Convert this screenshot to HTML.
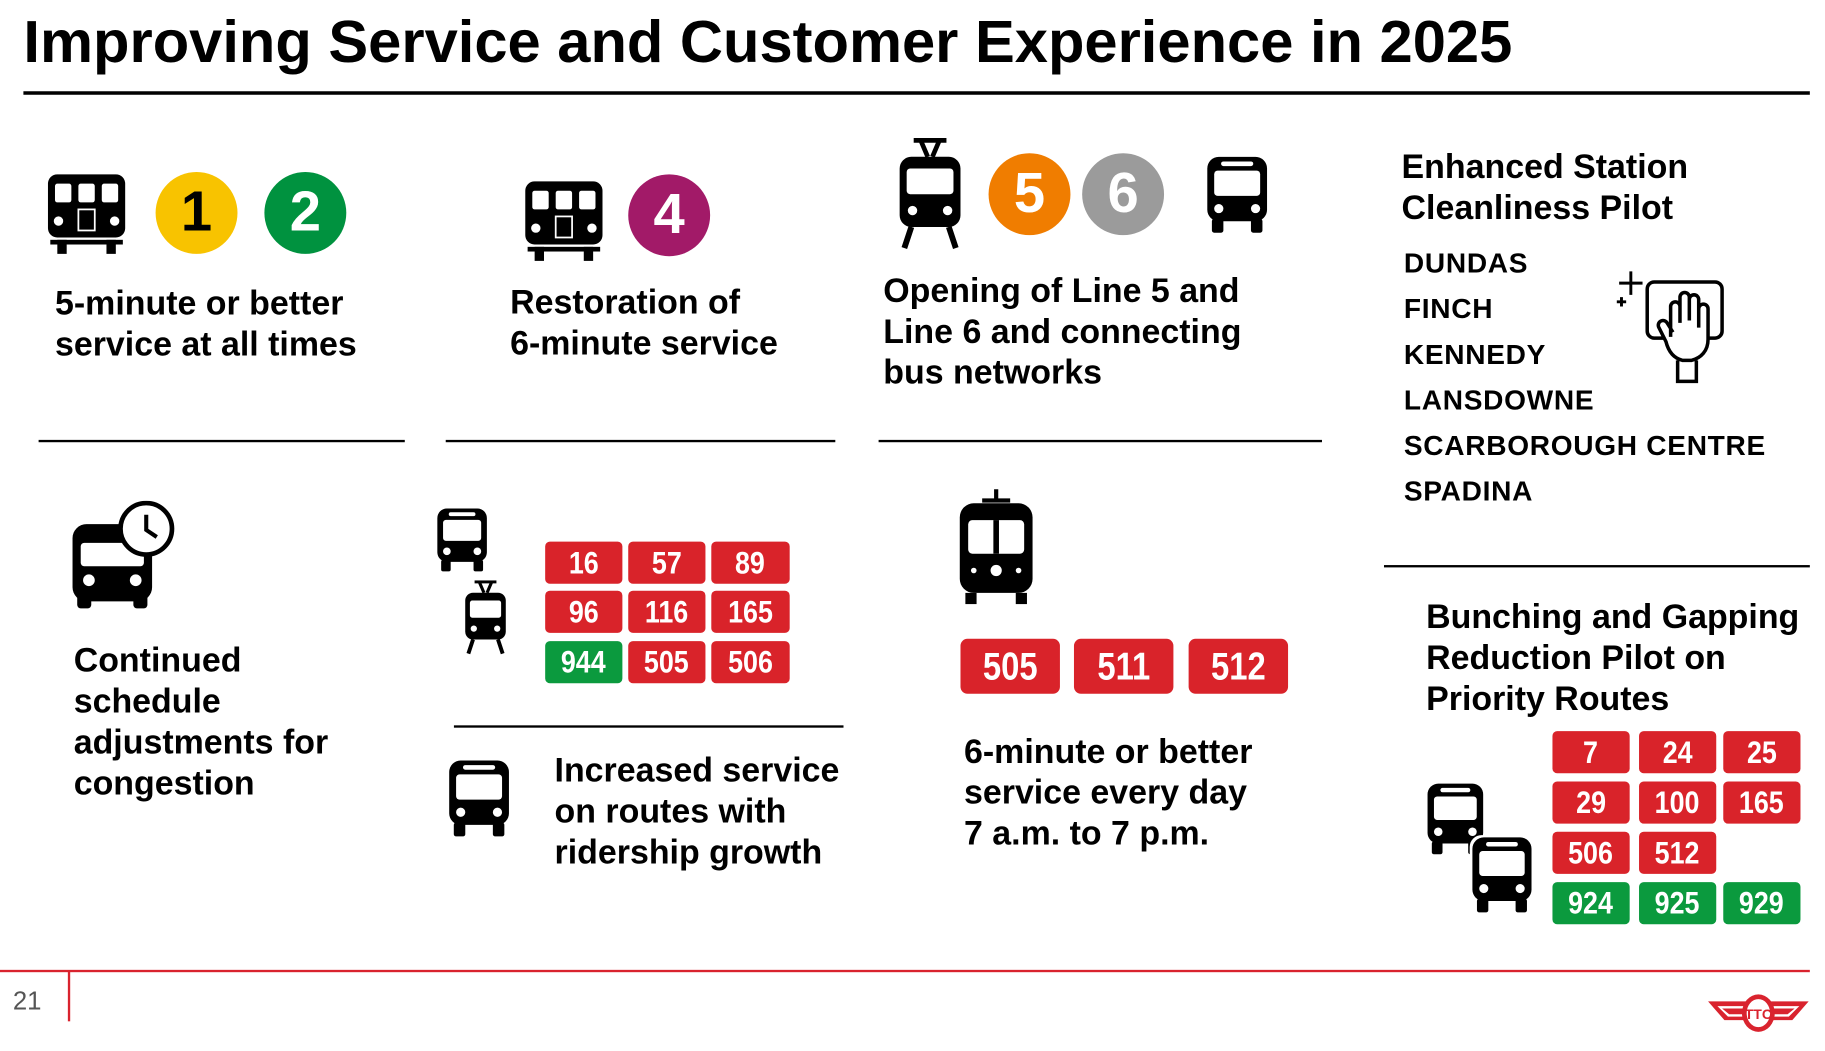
<!DOCTYPE html>
<html><head><meta charset="utf-8">
<style>
html,body{margin:0;padding:0;background:#fff;width:1825px;height:1051px;overflow:hidden}
#wrap{position:absolute;left:0;top:0;width:1560px;height:898px;transform:scale(1.1699);transform-origin:0 0;font-family:"Liberation Sans",Arial,sans-serif;color:#000}
.a{position:absolute}
.t{position:absolute;font-weight:bold;font-size:29px;line-height:35px;white-space:nowrap}
.rule{position:absolute;height:2px;background:#000}
.circ{position:absolute;width:70px;height:70px;border-radius:50%;color:#fff;font-weight:bold;font-size:48px;line-height:70px;text-align:center}
.box{position:absolute;width:66px;height:36px;background:#d9232a;border-radius:4px;color:#fff;font-weight:bold;font-size:27px;line-height:36px;text-align:center}
.box span{display:inline-block;transform:scaleX(.85)}
.g{background:#0b9a3e}
.st{position:absolute;left:1200px;font-size:24px;letter-spacing:0.6px;font-weight:bold;white-space:nowrap}
</style></head><body>
<svg width="0" height="0" style="position:absolute">
<defs>
<symbol id="train" viewBox="0 0 70 74">
<rect x="2" y="4" width="66" height="54" rx="8" fill="#000"/>
<rect x="8" y="12" width="14" height="16" rx="2" fill="#fff"/><rect x="28" y="12" width="14" height="16" rx="2" fill="#fff"/><rect x="48" y="12" width="14" height="16" rx="2" fill="#fff"/>
<circle cx="11" cy="44" r="4" fill="#fff"/><circle cx="59" cy="44" r="4" fill="#fff"/>
<rect x="28" y="34" width="14" height="18" fill="none" stroke="#fff" stroke-width="1.5"/>
<rect x="10" y="60" width="8" height="12" fill="#000"/><rect x="52" y="60" width="8" height="12" fill="#000"/><rect x="4" y="60" width="62" height="4" fill="#000"/>
</symbol>
<symbol id="bus" viewBox="0 0 56 70">
<rect x="2" y="2" width="52" height="56" rx="10" fill="#000"/>
<rect x="8" y="14" width="40" height="22" rx="3" fill="#fff"/>
<rect x="14" y="6" width="28" height="4" rx="2" fill="#fff"/>
<circle cx="12" cy="47" r="4" fill="#fff"/><circle cx="44" cy="47" r="4" fill="#fff"/>
<rect x="6" y="56" width="10" height="12" rx="2" fill="#000"/><rect x="40" y="56" width="10" height="12" rx="2" fill="#000"/>
</symbol>
<symbol id="tram" viewBox="0 0 56 96">
<path d="M14 2h28M20 2l6 14M36 2l-6 14" stroke="#000" stroke-width="4" fill="none"/>
<rect x="2" y="16" width="52" height="60" rx="10" fill="#000"/>
<rect x="8" y="26" width="40" height="22" rx="3" fill="#fff"/>
<circle cx="13" cy="62" r="4" fill="#fff"/><circle cx="43" cy="62" r="4" fill="#fff"/>
<path d="M12 76l-6 18M44 76l6 18" stroke="#000" stroke-width="5"/>
</symbol>
</defs></svg>
<div id="wrap">
<div class="a" style="left:20px;top:6px;font-size:51px;font-weight:bold;white-space:nowrap">Improving Service and Customer Experience in 2025</div>
<div class="a" style="left:20px;top:78px;width:1527px;height:3px;background:#000"></div>

<svg class="a" style="left:39px;top:145px" width="70" height="74"><use href="#train"/></svg>
<div class="circ" style="left:133px;top:147px;background:#f8c300;color:#000">1</div>
<div class="circ" style="left:226px;top:147px;background:#00923f">2</div>
<div class="t" style="left:47px;top:243px">5-minute or better<br>service at all times</div>
<div class="rule" style="left:33px;top:376px;width:313px"></div>

<svg class="a" style="left:447px;top:151px" width="70" height="74"><use href="#train"/></svg>
<div class="circ" style="left:537px;top:149px;background:#a21a68">4</div>
<div class="t" style="left:436px;top:242px">Restoration of<br>6-minute service</div>
<div class="rule" style="left:381px;top:376px;width:333px"></div>

<svg class="a" style="left:767px;top:118px" width="56" height="96"><use href="#tram"/></svg>
<div class="circ" style="left:845px;top:131px;background:#f07d00">5</div>
<div class="circ" style="left:925px;top:131px;background:#9b9b9b">6</div>
<svg class="a" style="left:1030px;top:132px" width="55" height="69"><use href="#bus"/></svg>
<div class="t" style="left:755px;top:232px">Opening of Line 5 and<br>Line 6 and connecting<br>bus networks</div>
<div class="rule" style="left:751px;top:376px;width:379px"></div>

<div class="t" style="left:1198px;top:126px">Enhanced Station<br>Cleanliness Pilot</div>
<div class="st" style="top:212px">DUNDAS</div>
<div class="st" style="top:251px">FINCH</div>
<div class="st" style="top:290px">KENNEDY</div>
<div class="st" style="top:329px">LANSDOWNE</div>
<div class="st" style="top:368px">SCARBOROUGH CENTRE</div>
<div class="st" style="top:407px">SPADINA</div>
<svg class="a" style="left:1378px;top:228px" width="98" height="102" viewBox="0 0 98 102">
<path d="M16 4v20M6 14h20M8 26v8M4 30h8" stroke="#000" stroke-width="2.5"/>
<rect x="30" y="13" width="64" height="48" rx="6" fill="none" stroke="#000" stroke-width="3"/>
<path d="M50 60V34a4 4 0 0 1 8 0v-8a4 4 0 0 1 8 0v20M66 28a4 4 0 0 1 8 0v24M58 30v18M74 36a4 4 0 0 1 8 0v26c0 10-6 16-14 18h-8c-8-2-12-8-14-16l-6-12a4 4 0 0 1 7-4l5 8M56 80v18h16V80" fill="#fff" stroke="#000" stroke-width="3"/>
</svg>
<div class="rule" style="left:1183px;top:483px;width:364px"></div>

<svg class="a" style="left:60px;top:428px" width="90" height="94" viewBox="0 0 90 94">
<rect x="2" y="20" width="68" height="66" rx="12" fill="#000"/>
<rect x="9" y="36" width="54" height="20" rx="3" fill="#fff"/>
<circle cx="16" cy="68" r="5" fill="#fff"/><circle cx="56" cy="68" r="5" fill="#fff"/>
<rect x="6" y="80" width="12" height="12" rx="3" fill="#000"/><rect x="54" y="80" width="12" height="12" rx="3" fill="#000"/>
<circle cx="65" cy="24" r="22" fill="#fff" stroke="#000" stroke-width="4"/><path d="M65 12v13l9 6" stroke="#000" stroke-width="3.5" fill="none"/>
</svg>
<div class="t" style="left:63px;top:548px">Continued<br>schedule<br>adjustments for<br>congestion</div>

<svg class="a" style="left:372px;top:433px" width="46" height="57"><use href="#bus"/></svg>
<svg class="a" style="left:393px;top:496px" width="44" height="64"><use href="#tram"/></svg>
<div class="box" style="left:466px;top:463px"><span>16</span></div>
<div class="box" style="left:537px;top:463px"><span>57</span></div>
<div class="box" style="left:608px;top:463px;width:67px"><span>89</span></div>
<div class="box" style="left:466px;top:505px"><span>96</span></div>
<div class="box" style="left:537px;top:505px"><span>116</span></div>
<div class="box" style="left:608px;top:505px;width:67px"><span>165</span></div>
<div class="box g" style="left:466px;top:548px"><span>944</span></div>
<div class="box" style="left:537px;top:548px"><span>505</span></div>
<div class="box" style="left:608px;top:548px;width:67px"><span>506</span></div>
<div class="rule" style="left:388px;top:620px;width:333px"></div>
<svg class="a" style="left:382px;top:648px" width="55" height="69"><use href="#bus"/></svg>
<div class="t" style="left:474px;top:642px">Increased service<br>on routes with<br>ridership growth</div>

<svg class="a" style="left:818px;top:418px" width="67" height="101" viewBox="0 0 56 84">
<path d="M28 0v8M18 8h20" stroke="#000" stroke-width="3"/>
<rect x="2" y="10" width="52" height="64" rx="10" fill="#000"/>
<rect x="8" y="22" width="40" height="24" rx="3" fill="#fff"/><rect x="26" y="22" width="4" height="24" fill="#000"/>
<circle cx="28" cy="58" r="4" fill="#fff"/><circle cx="12" cy="58" r="2" fill="#fff"/><circle cx="44" cy="58" r="2" fill="#fff"/>
<rect x="6" y="74" width="8" height="8" fill="#000"/><rect x="42" y="74" width="8" height="8" fill="#000"/>
</svg>
<div class="box" style="left:821px;top:546px;width:85px;height:47px;line-height:47px;font-size:33px;border-radius:6px"><span>505</span></div>
<div class="box" style="left:918px;top:546px;width:85px;height:47px;line-height:47px;font-size:33px;border-radius:6px"><span>511</span></div>
<div class="box" style="left:1016px;top:546px;width:85px;height:47px;line-height:47px;font-size:33px;border-radius:6px"><span>512</span></div>
<div class="t" style="left:824px;top:626px">6-minute or better<br>service every day<br>7 a.m. to 7 p.m.</div>

<div class="t" style="left:1219px;top:511px">Bunching and Gapping<br>Reduction Pilot on<br>Priority Routes</div>
<svg class="a" style="left:1218px;top:668px" width="52" height="64"><use href="#bus"/></svg>
<svg class="a" style="left:1254px;top:712px" width="56" height="68" viewBox="-2 -2 60 74"><rect x="0" y="0" width="56" height="60" rx="11" fill="#fff"/><use href="#bus"/></svg>
<div class="box" style="left:1327px;top:625px"><span>7</span></div>
<div class="box" style="left:1401px;top:625px"><span>24</span></div>
<div class="box" style="left:1473px;top:625px"><span>25</span></div>
<div class="box" style="left:1327px;top:668px"><span>29</span></div>
<div class="box" style="left:1401px;top:668px"><span>100</span></div>
<div class="box" style="left:1473px;top:668px"><span>165</span></div>
<div class="box" style="left:1327px;top:711px"><span>506</span></div>
<div class="box" style="left:1401px;top:711px"><span>512</span></div>
<div class="box g" style="left:1327px;top:754px"><span>924</span></div>
<div class="box g" style="left:1401px;top:754px"><span>925</span></div>
<div class="box g" style="left:1473px;top:754px"><span>929</span></div>

<div class="a" style="left:0;top:829px;width:1547px;height:2px;background:#d9232e"></div>
<div class="a" style="left:58px;top:830px;width:2px;height:43px;background:#d9232e"></div>
<div class="a" style="left:11px;top:843px;font-size:22px;color:#555">21</div>
<svg class="a" style="left:1460px;top:846px" width="86" height="38" viewBox="0 0 86 38">
<path d="M0 10h86l-14 16H14z" fill="#d9232e"/><path d="M8 14h70l-9 9H17z" fill="#fff"/><path d="M12 16h62l-6 5H18z" fill="#d9232e"/>
<ellipse cx="43" cy="20" rx="14" ry="16" fill="#d9232e"/><ellipse cx="43" cy="20" rx="10" ry="12" fill="#fff"/>
<text x="43" y="25" font-size="12" font-weight="bold" text-anchor="middle" fill="#d9232e" font-family="Liberation Sans">TTC</text>
</svg>
</div>
</body></html>
